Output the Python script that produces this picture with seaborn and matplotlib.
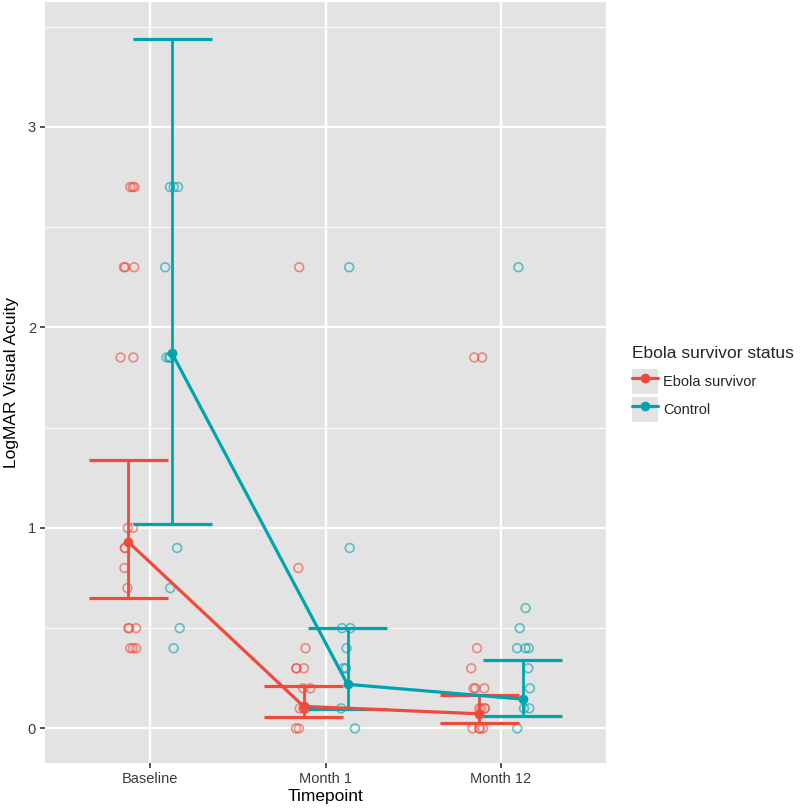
import numpy as np
import pandas as pd
import matplotlib.pyplot as plt
import seaborn as sns
from matplotlib.lines import Line2D
from matplotlib.patches import Patch
from matplotlib.legend_handler import HandlerTuple

# Values
timepoints = ['Baseline', 'Month 1', 'Month 12']
groups = ['Ebola survivor', 'Control']

# individual measurements (value, count) per group and timepoint
ebola_baseline = [(2.7, 3), (2.3, 3), (1.85, 2), (1.0, 2), (0.9, 2), (0.8, 1), (0.7, 1), (0.5, 3), (0.4, 3)]
ebola_month1 = [(2.3, 1), (0.8, 1), (0.4, 1), (0.3, 3), (0.2, 2), (0.1, 4), (0.0, 2)]
ebola_month12 = [(1.85, 2), (0.4, 1), (0.3, 1), (0.2, 3), (0.1, 4), (0.0, 4)]
control_baseline = [(2.7, 3), (2.3, 1), (1.85, 3), (0.9, 1), (0.7, 1), (0.5, 1), (0.4, 1)]
control_month1 = [(2.3, 1), (0.9, 1), (0.5, 2), (0.4, 1), (0.3, 2), (0.1, 1), (0.0, 1)]
control_month12 = [(2.3, 1), (0.6, 1), (0.5, 1), (0.4, 3), (0.3, 1), (0.2, 1), (0.1, 2), (0.0, 1)]

# group means with lower / upper interval
ebola_mean = [0.93, 0.11, 0.073]
ebola_low = [0.65, 0.056, 0.028]
ebola_high = [1.34, 0.214, 0.165]
control_mean = [1.87, 0.22, 0.146]
control_low = [1.02, 0.098, 0.06]
control_high = [3.44, 0.50, 0.343]

colors = {'Ebola survivor': '#EF4A3C', 'Control': '#00A4AF'}
dodge = {'Ebola survivor': -0.125, 'Control': 0.125}
cap_half = 0.225

raw = {
    ('Ebola survivor', 'Baseline'): ebola_baseline,
    ('Ebola survivor', 'Month 1'): ebola_month1,
    ('Ebola survivor', 'Month 12'): ebola_month12,
    ('Control', 'Baseline'): control_baseline,
    ('Control', 'Month 1'): control_month1,
    ('Control', 'Month 12'): control_month12,
}

rows = []
for (grp, tp), vals in raw.items():
    for v, n in vals:
        for _ in range(n):
            rows.append({'group': grp, 'Timepoint': tp, 'value': v})
pts = pd.DataFrame(rows)
# jitter like geom_jitter (positions only)
rng = np.random.default_rng(7)
pts['xpos'] = (pts['Timepoint'].map(timepoints.index) + pts['group'].map(dodge)
               + rng.uniform(-0.045, 0.045, len(pts)))

summ = pd.DataFrame({
    'group': ['Ebola survivor'] * 3 + ['Control'] * 3,
    'Timepoint': timepoints * 2,
    'mean': ebola_mean + control_mean,
    'low': ebola_low + control_low,
    'high': ebola_high + control_high,
})
summ['xpos'] = summ['Timepoint'].map(timepoints.index) + summ['group'].map(dodge)

sns.set_theme(style='darkgrid', rc={
    'axes.facecolor': '#E3E3E3',
    'grid.color': 'white',
})
plt.rcParams['font.family'] = ['Liberation Sans', 'DejaVu Sans']

fig = plt.figure(figsize=(8, 8.1), dpi=100)
ax = fig.add_axes([0.05625, 0.058, 0.7015, 0.9395])

# raw points, hollow
sns.scatterplot(data=pts, x='xpos', y='value', hue='group', palette=colors,
                s=40, alpha=0.6, linewidth=1.2, legend=False, ax=ax, zorder=3)
coll = ax.collections[-1]
fc = coll.get_facecolors()
coll.set_edgecolors(fc)
coll.set_facecolors('none')

# error bars
for grp in groups:
    d = summ[summ['group'] == grp]
    ax.vlines(d['xpos'], d['low'], d['high'], color=colors[grp], lw=2.0, zorder=4)
    ax.hlines(d['low'], d['xpos'] - cap_half, d['xpos'] + cap_half, color=colors[grp], lw=2.3, zorder=4)
    ax.hlines(d['high'], d['xpos'] - cap_half, d['xpos'] + cap_half, color=colors[grp], lw=2.3, zorder=4)

# mean lines
sns.lineplot(data=summ, x='xpos', y='mean', hue='group', palette=colors, errorbar=None,
             marker='o', markersize=7, markeredgewidth=0, linewidth=2.3,
             legend=False, ax=ax, zorder=5, sort=False)

ax.set_xlim(-0.6, 2.6)
ax.set_ylim(-0.1725, 3.6225)
ax.set_xticks(range(len(timepoints)))
ax.set_xticklabels(timepoints)
ax.set_yticks([0, 1, 2, 3])
ax.set_yticklabels(['0', '1', '2', '3'])
ax.set_yticks([0.5, 1.5, 2.5, 3.5], minor=True)
ax.grid(which='major', color='white', linewidth=1.7)
ax.grid(which='minor', axis='y', color='white', linewidth=0.7)
ax.tick_params(axis='both', which='major', length=3.5, width=1.2, color='#333333',
               labelsize=10.5, labelcolor='#3A3A3A', pad=3, bottom=True, left=True)
ax.tick_params(which='minor', length=0)
for s in ax.spines.values():
    s.set_visible(False)
ax.set_xlabel('Timepoint', fontsize=12.5, color='black', labelpad=2)
ax.set_ylabel('LogMAR Visual Acuity', fontsize=12.5, color='black', labelpad=6)

# legend with grey key boxes
handles = []
for grp in groups:
    handles.append((Patch(facecolor='#E3E3E3', edgecolor='none'),
                    Line2D([], [], color=colors[grp], lw=2.3, marker='o', markersize=7,
                           markeredgewidth=0)))
leg = fig.legend(handles, groups, title='Ebola survivor status',
                 handler_map={tuple: HandlerTuple(ndivide=1, pad=0)},
                 loc='upper left', bbox_to_anchor=(632 / 800, 1 - 346 / 810),
                 frameon=False, fontsize=10.5, title_fontsize=12.5,
                 handlelength=1.75, handleheight=2.25, handletextpad=0.4,
                 labelspacing=0.2, borderpad=0, borderaxespad=0, alignment='left')
leg._legend_box.sep += 4

plt.savefig('out.png', dpi=100)
